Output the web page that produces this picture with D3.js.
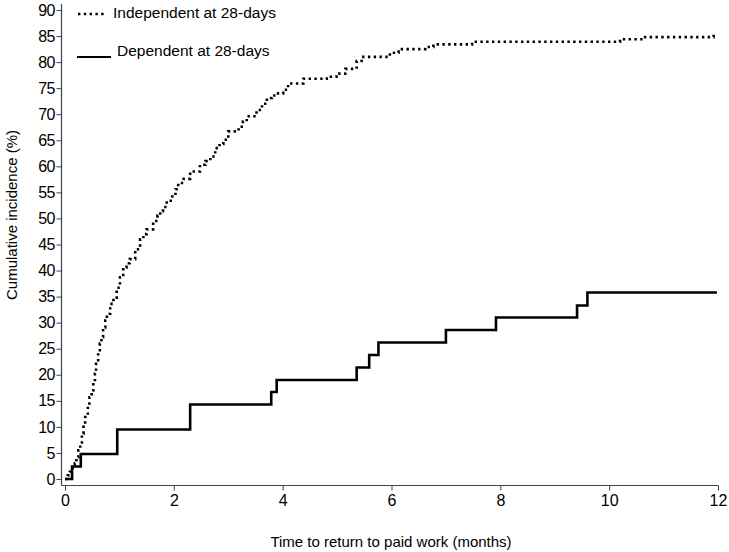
<!DOCTYPE html>
<html lang="en">
<head>
    <meta charset="UTF-8">
    <title>Cumulative incidence of return to paid work</title>
    <script src="https://d3js.org/d3.v7.min.js"></script>
    <style>
        body { margin: 0; background: #fff; }
        text { font-family: "Liberation Sans", Arial, sans-serif; fill: #000; }
        .tick text { font-size: 16px; }
        .tick line { stroke: #444; stroke-width: 1px; }
        .axis-line { stroke: #444; stroke-width: 1.2px; }
    </style>
</head>
<body>
<svg width="729" height="552"></svg>
<script>
    // step times (months) and cumulative incidence (%)
    const indepTime = [0, 0.05, 0.09, 0.14, 0.18, 0.21, 0.245, 0.28, 0.31, 0.34, 0.37, 0.42, 0.45, 0.49,
        0.52, 0.55, 0.57, 0.61, 0.64, 0.67, 0.70, 0.74, 0.77, 0.83, 0.89, 0.95, 1.01, 1.07, 1.13, 1.19,
        1.29, 1.38, 1.44, 1.50, 1.62, 1.70, 1.75, 1.80, 1.87, 1.97, 2.03, 2.08, 2.18, 2.30, 2.48, 2.58,
        2.67, 2.76, 2.84, 2.91, 3.00, 3.19, 3.27, 3.34, 3.52, 3.62, 3.71, 3.80, 3.89, 4.01, 4.10, 4.38,
        4.81, 4.99, 5.15, 5.36, 5.45, 5.97, 6.13, 6.62, 6.77, 7.48, 10.20, 10.63, 11.92];
    const indepValue = [0, 0.7, 1.4, 2.2, 3.0, 4.2, 5.5, 7.0, 8.7, 10.3, 11.9, 14.5, 15.7, 17.0,
        18.6, 20.2, 22.1, 24.7, 26.0, 27.2, 29.1, 30.4, 31.7, 33.6, 34.8, 36.7, 38.7, 40.6, 41.4, 42.2,
        44.1, 46.0, 47.0, 47.9, 49.5, 50.6, 51.4, 52.2, 53.4, 54.2, 55.6, 56.8, 57.6, 59.0, 60.3, 61.0,
        61.9, 63.5, 64.3, 65.1, 66.7, 67.6, 68.6, 69.6, 70.8, 72.0, 73.1, 73.6, 74.0, 74.7, 75.9, 76.8,
        77.2, 77.8, 78.7, 80.2, 81.0, 81.8, 82.5, 82.9, 83.4, 83.9, 84.4, 84.8, 85.6];

    const depTime = [0, 0.13, 0.29, 0.96, 2.30, 3.79, 3.89, 5.36, 5.59, 5.76, 7.00, 7.92, 9.41, 9.60, 11.98];
    const depValue = [0, 2.4, 4.8, 9.5, 14.3, 16.7, 19.0, 21.4, 23.8, 26.2, 28.6, 31.0, 33.3, 35.8, 35.8];

    const xTicks = [0, 2, 4, 6, 8, 10, 12];
    const yTicks = d3.range(0, 91, 5);

    const svg = d3.select("svg");

    const x = d3.scaleLinear().domain([0, 12]).range([65, 718]);
    const y = d3.scaleLinear().domain([0, 90]).range([479, 10]);

    // axes
    svg.append("line").attr("class", "axis-line")
        .attr("x1", 61.5).attr("x2", 61.5).attr("y1", 4).attr("y2", 485.5);
    svg.append("line").attr("class", "axis-line")
        .attr("x1", 61.5).attr("x2", 718.5).attr("y1", 485.5).attr("y2", 485.5);

    const yAxis = svg.append("g")
        .attr("transform", "translate(61.5,0)")
        .call(d3.axisLeft(y).tickValues(yTicks).tickSize(5).tickPadding(2).tickFormat(d3.format("d")));
    yAxis.select(".domain").remove();
    yAxis.selectAll(".tick text").attr("letter-spacing", "-0.8px");

    const xAxis = svg.append("g")
        .attr("transform", "translate(0,485.5)")
        .call(d3.axisBottom(x).tickValues(xTicks).tickSize(5).tickPadding(4));
    xAxis.select(".domain").remove();
    xAxis.selectAll(".tick text").attr("font-size", "16px");

    // axis titles
    svg.append("text")
        .attr("x", 391).attr("y", 547)
        .attr("text-anchor", "middle")
        .style("font-size", "15px")
        .text("Time to return to paid work (months)");

    svg.append("text")
        .attr("transform", "translate(17,215) rotate(-90)")
        .attr("text-anchor", "middle")
        .style("font-size", "15px")
        .text("Cumulative incidence (%)");

    // curves
    const line = d3.line()
        .x(d => x(d[0]))
        .y(d => y(d[1]))
        .curve(d3.curveStepAfter);

    const indep = d3.zip(indepTime, indepValue);
    const dep = d3.zip(depTime, depValue);

    svg.append("path")
        .datum(indep)
        .attr("fill", "none")
        .attr("stroke", "#000")
        .attr("stroke-width", 2.6)
        .attr("stroke-dasharray", "2.4,3.4")
        .attr("d", line);

    svg.append("path")
        .datum(dep)
        .attr("fill", "none")
        .attr("stroke", "#000")
        .attr("stroke-width", 2.6)
        .attr("d", line);

    // legend
    svg.append("line")
        .attr("x1", 78).attr("x2", 107).attr("y1", 14).attr("y2", 14)
        .attr("stroke", "#000").attr("stroke-width", 2.4)
        .attr("stroke-dasharray", "2.4,3.4");
    svg.append("text")
        .attr("x", 113).attr("y", 18)
        .style("font-size", "15.5px")
        .text("Independent at 28-days");

    svg.append("line")
        .attr("x1", 77).attr("x2", 111).attr("y1", 57).attr("y2", 57)
        .attr("stroke", "#000").attr("stroke-width", 2);
    svg.append("text")
        .attr("x", 117).attr("y", 56)
        .style("font-size", "15.5px")
        .text("Dependent at 28-days");
</script>
</body>
</html>
